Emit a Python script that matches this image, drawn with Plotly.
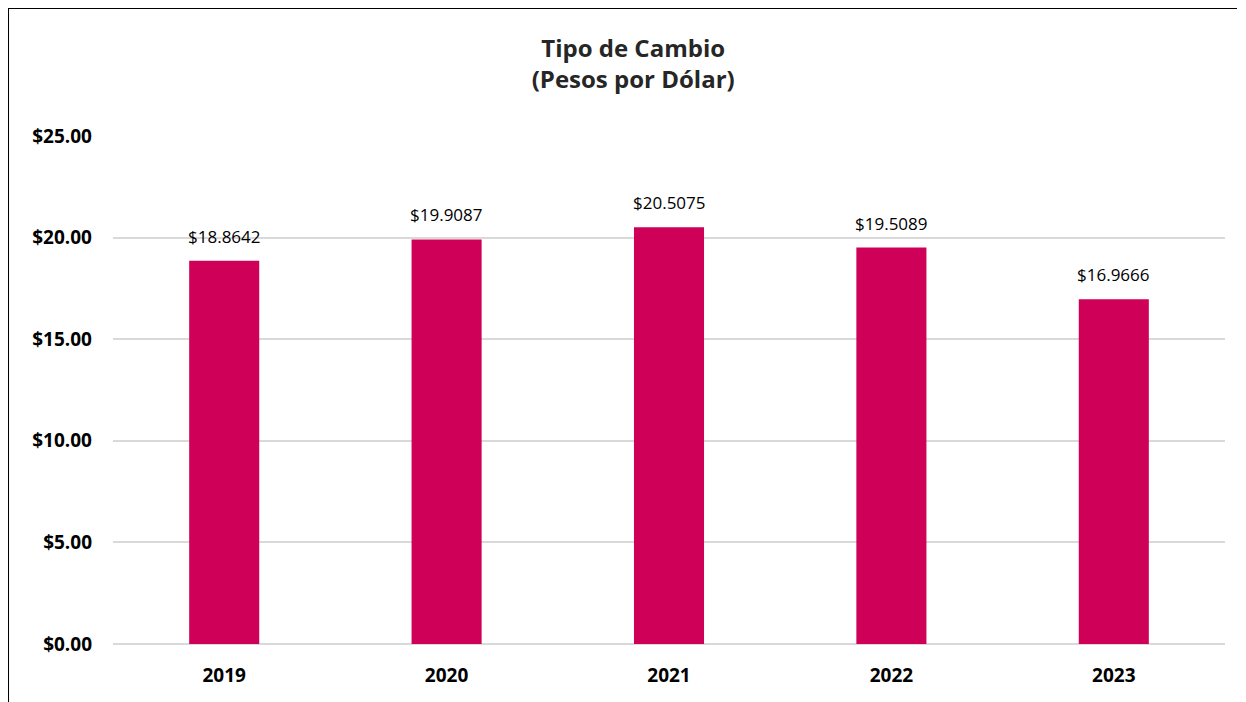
import plotly.graph_objects as go

years = ["2019", "2020", "2021", "2022", "2023"]
rates = [18.8642, 19.9087, 20.5075, 19.5089, 16.9666]
labels = ["$18.8642", "$19.9087", "$20.5075", "$19.5089", "$16.9666"]
y_ticks = [0, 5, 10, 15, 20, 25]
y_tick_text = ["$0.00", "$5.00", "$10.00", "$15.00", "$20.00", "$25.00"]

BAR = "#CF0057"
FONT = "Open Sans, Liberation Sans, sans-serif"

fig = go.Figure()
fig.add_trace(go.Bar(x=years, y=rates, marker=dict(color=BAR, line=dict(width=0)),
                     hoverinfo="skip"))

# data labels (category index positions on the category axis)
for i, (y, t) in enumerate(zip(rates, labels)):
    fig.add_annotation(x=i, y=y, xref="x", yref="y", text=t, showarrow=False,
                       yanchor="bottom", yshift=11,
                       font=dict(family=FONT, size=17, color="#000000"))

fig.update_layout(
    width=1238, height=694,
    margin=dict(l=105, r=21, t=128, b=58),
    paper_bgcolor="white", plot_bgcolor="white",
    bargap=0.685,
    showlegend=False,
    title=dict(text="Tipo de Cambio<br>(Pesos por Dólar)", x=0.505, xanchor="center",
               y=0.929, yanchor="top",
               font=dict(family=FONT, size=24, color="#262626", weight="bold")),
    xaxis=dict(type="category", showgrid=False, showline=False, ticks="",
               ticklabelstandoff=18,
               tickfont=dict(family=FONT, size=19, color="#000000", weight="bold")),
    yaxis=dict(range=[0, 25], tickvals=y_ticks, ticktext=y_tick_text,
               showgrid=True, gridcolor="#D9D9D9", gridwidth=1.5, zeroline=True,
               zerolinecolor="#D9D9D9", zerolinewidth=1.5, showline=False, ticks="",
               ticklabelstandoff=20,
               tickfont=dict(family=FONT, size=19, color="#000000", weight="bold")),
)

# frame border (top and left)
fig.add_shape(type="line", xref="paper", yref="paper", x0=-0.0944, x1=1.0108,
              y0=1.252, y1=1.252, line=dict(color="black", width=2))
fig.add_shape(type="line", xref="paper", yref="paper", x0=-0.0944, x1=-0.0944,
              y0=1.252, y1=-0.12, line=dict(color="black", width=2))

fig.write_html("out.html")
